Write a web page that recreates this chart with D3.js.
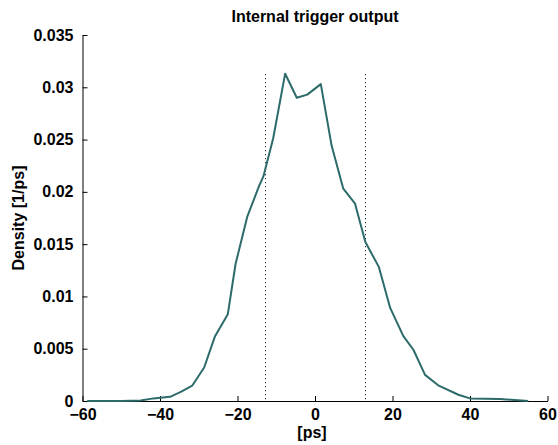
<!DOCTYPE html>
<html>
<head>
<meta charset="utf-8">
<script src="https://cdn.jsdelivr.net/npm/d3@7"></script>
<style>
  body { margin: 0; background: #fff; }
  text { font-family: "Liberation Sans", Arial, sans-serif; font-weight: bold; }
</style>
</head>
<body>
<div id="chart"></div>
<script>
// Time offsets [ps] and density values
var timePs = [-58.8, -50, -45, -41.7, -37.4, -34.5, -31.7, -28.6, -25.8, -22.5, -20.5, -17.5,
  -14.5, -13.3, -10.8, -7.7, -4.7, -2, 1.5, 4.3, 7.3, 10.3, 13, 16.5, 19.4, 22.8, 25.4,
  28.4, 31.8, 37, 40, 47.7, 55];
var density = [0, 0, 0.00005, 0.00025, 0.0004, 0.0009, 0.00146, 0.0032, 0.0062, 0.0083, 0.0131, 0.0176,
  0.0205, 0.0215, 0.0251, 0.0313, 0.0290, 0.0293, 0.0303, 0.0244, 0.0203, 0.0189, 0.0152, 0.0128, 0.0089, 0.0062, 0.0049,
  0.0025, 0.0015, 0.0006, 0.00025, 0.0002, 0];

// Dotted marker lines
var markerPs = [-13, 13];

// Tick labels
var xTicks = [-60, -40, -20, 0, 20, 40, 60];
var yTicks = [0, 0.005, 0.01, 0.015, 0.02, 0.025, 0.03, 0.035];
var yTickLabels = ["0", "0.005", "0.01", "0.015", "0.02", "0.025", "0.03", "0.035"];

var width = 558, height = 445;
var margin = {left: 82.5, right: 10.5, top: 35, bottom: 44};

var svg = d3.select("#chart")
  .append("svg")
    .attr("width", width)
    .attr("height", height);

var x = d3.scaleLinear().domain([-60, 60]).range([margin.left, width - margin.right]);
var y = d3.scaleLinear().domain([0, 0.035]).range([height - margin.bottom, margin.top]);

// x axis with inward ticks
var xAxis = svg.append("g")
  .attr("transform", "translate(0," + (height - margin.bottom) + ")")
  .call(d3.axisBottom(x).tickValues(xTicks).tickSizeInner(-5).tickSizeOuter(0).tickPadding(8));

// y axis with inward ticks
var yAxis = svg.append("g")
  .attr("transform", "translate(" + margin.left + ",0)")
  .call(d3.axisLeft(y).tickValues(yTicks).tickSizeInner(-5).tickSizeOuter(0).tickPadding(9)
    .tickFormat(function(d, i) { return yTickLabels[i]; }));

svg.selectAll(".domain, .tick line").attr("stroke", "#000").attr("stroke-width", 1);
svg.selectAll(".tick text").attr("fill", "#000").style("font-size", "16px")
  .style("font-family", "'Liberation Sans', Arial, sans-serif").style("font-weight", "bold");

// dotted marker lines
svg.selectAll(".marker")
  .data(markerPs)
  .enter()
  .append("line")
  .attr("class", "marker")
  .attr("x1", function(d) { return Math.round(x(d)) + 0.5; })
  .attr("x2", function(d) { return Math.round(x(d)) + 0.5; })
  .attr("y1", y(d3.max(density)) + 0.5)
  .attr("y2", y(0))
  .attr("stroke", "#000")
  .attr("stroke-width", 1)
  .attr("stroke-dasharray", "1,3");

// density curve
var line = d3.line()
  .x(function(d, i) { return x(timePs[i]); })
  .y(function(d) { return y(d); });

svg.append("path")
  .datum(density)
  .attr("d", line)
  .attr("fill", "none")
  .attr("stroke", "#2d6b6b")
  .attr("stroke-width", 2)
  .attr("stroke-linejoin", "round");

// title and axis labels
svg.append("text")
  .attr("x", (margin.left + width - margin.right) / 2)
  .attr("y", 22)
  .attr("text-anchor", "middle")
  .style("font-size", "16px")
  .text("Internal trigger output");

svg.append("text")
  .attr("x", x(0) - 3)
  .attr("y", 438)
  .attr("text-anchor", "middle")
  .style("font-size", "16px")
  .text("[ps]");

svg.append("text")
  .attr("transform", "translate(24," + y(0.0175) + ") rotate(-90)")
  .attr("text-anchor", "middle")
  .style("font-size", "16px")
  .text("Density [1/ps]");
</script>
</body>
</html>
